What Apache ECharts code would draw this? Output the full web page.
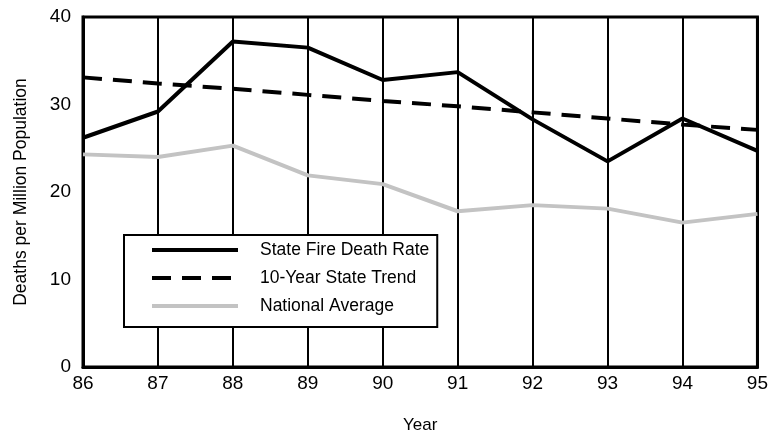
<!DOCTYPE html>
<html>
<head>
<meta charset="utf-8">
<script src="https://cdn.jsdelivr.net/npm/echarts@6/dist/echarts.min.js"></script>
<style>
  html, body { margin: 0; padding: 0; background: #fff; }
  #chart { width: 771px; height: 439px; }
</style>
</head>
<body>
<div id="chart"></div>
<script>
const years = ['86', '87', '88', '89', '90', '91', '92', '93', '94', '95'];
const stateRate = [26.2, 29.2, 37.2, 36.5, 32.8, 33.7, 28.3, 23.5, 28.4, 24.7];
const stateTrend = [33.1, 32.4, 31.8, 31.1, 30.4, 29.8, 29.1, 28.4, 27.7, 27.1];
const nationalAvg = [24.3, 24.0, 25.3, 21.9, 20.9, 17.8, 18.5, 18.1, 16.5, 17.5];
const yTicks = { min: 0, max: 40, step: 10 };

const font = '"Liberation Sans", Arial, sans-serif';

const chart = echarts.init(document.getElementById('chart'));

chart.setOption({
  animation: false,
  textStyle: { fontFamily: font, color: '#000' },
  grid: {
    left: 83, right: 7, top: 17, bottom: 66,
    show: true, borderColor: '#000', borderWidth: 3
  },
  legend: {
    orient: 'vertical',
    left: 124,
    top: 235,
    padding: [6, 8, 12, 26],
    backgroundColor: '#fff',
    borderColor: '#000',
    borderWidth: 2,
    borderRadius: 0,
    itemWidth: 86,
    itemHeight: 14,
    itemGap: 10,
    itemStyle: { opacity: 0 },
    lineStyle: { width: 4 },
    textStyle: { fontFamily: font, fontSize: 17.5, color: '#000', padding: [0, 0, 0, 17] },
    data: ['State Fire Death Rate', '10-Year State Trend', 'National Average']
  },
  xAxis: {
    type: 'category',
    data: years,
    boundaryGap: false,
    name: 'Year',
    nameLocation: 'middle',
    nameGap: 50,
    nameTextStyle: { fontFamily: font, fontSize: 17, color: '#000' },
    axisLine: { lineStyle: { color: '#000', width: 3 } },
    axisTick: { show: false },
    axisLabel: { fontFamily: font, fontSize: 19, color: '#000', margin: 7 },
    splitLine: { show: true, lineStyle: { color: '#000', width: 2 } }
  },
  yAxis: {
    type: 'value',
    min: yTicks.min,
    max: yTicks.max,
    interval: yTicks.step,
    name: 'Deaths per Million Population',
    nameLocation: 'middle',
    nameGap: 53,
    nameTextStyle: { fontFamily: font, fontSize: 17.5, color: '#000' },
    axisLine: { show: true, lineStyle: { color: '#000', width: 3 } },
    axisTick: { show: false },
    axisLabel: { fontFamily: font, fontSize: 19, color: '#000', margin: 12 },
    splitLine: { show: false }
  },
  series: [
    {
      name: 'National Average',
      type: 'line',
      data: nationalAvg,
      symbol: 'none',
      z: 3,
      lineStyle: { color: '#c3c3c3', width: 4 },
      itemStyle: { color: '#c3c3c3' }
    },
    {
      name: '10-Year State Trend',
      type: 'line',
      data: stateTrend,
      symbol: 'none',
      z: 4,
      lineStyle: { color: '#000', width: 4, type: [19, 11] },
      itemStyle: { color: '#000' }
    },
    {
      name: 'State Fire Death Rate',
      type: 'line',
      data: stateRate,
      symbol: 'none',
      z: 5,
      lineStyle: { color: '#000', width: 4 },
      itemStyle: { color: '#000' }
    }
  ]
});
</script>
</body>
</html>
